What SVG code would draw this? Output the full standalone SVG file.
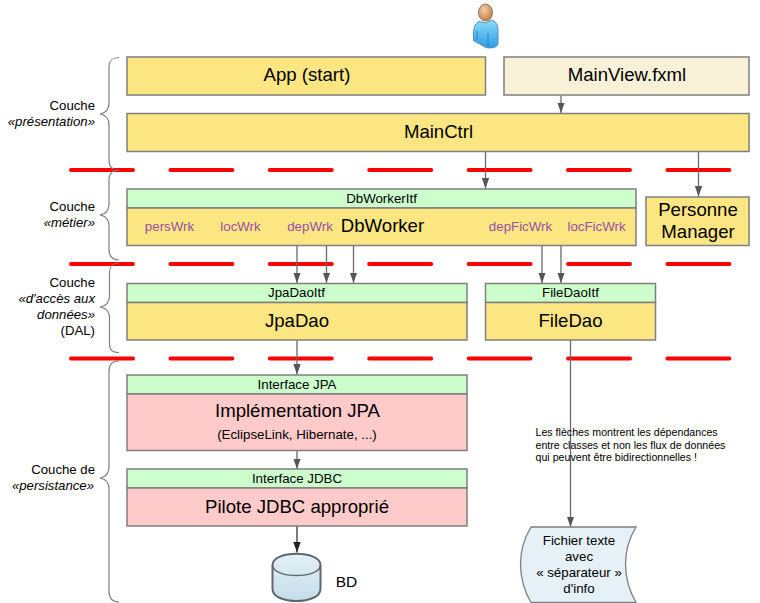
<svg xmlns="http://www.w3.org/2000/svg" width="760" height="603" viewBox="0 0 760 603">
<style>
text{font-family:"Liberation Sans",Arial,sans-serif;fill:#000;text-anchor:middle}
.b{stroke:#7f7f7f;stroke-width:1.5}
.y{fill:#fbe681}.g{fill:#ccffcc}.r{fill:#ffcaca}.c{fill:#f9f1d7}
.t16{font-size:18.600px}.t12{font-size:13.300px}.t11{font-size:13.300px;fill:#9a4fa8}
.l{font-size:13.200px;text-anchor:end}.i{font-style:italic}
.n{font-size:10.650px;text-anchor:start}
.dash{stroke:#ff0000;stroke-width:4;stroke-linecap:round;stroke-dasharray:62 37.400;fill:none}
.brace{fill:none;stroke:#7f7f7f;stroke-width:1.200}
.arrow{fill:none;stroke:#6a6a70;stroke-width:1.300;marker-end:url(#ah)}
</style>
<defs>
<marker id="ah" markerUnits="userSpaceOnUse" markerWidth="11" markerHeight="8" refX="10.500" refY="4" viewBox="0 0 11 8" orient="auto"><path d="M0 0.300L10.500 4L0 7.700z" fill="#55555c"/></marker>
<marker id="ahk" markerUnits="userSpaceOnUse" markerWidth="11" markerHeight="8" refX="10.500" refY="4" viewBox="0 0 11 8" orient="auto"><path d="M0 0.300L10.500 4L0 7.700z" fill="#222"/></marker>
<linearGradient id="cyl" x1="0" y1="0" x2="0" y2="1"><stop offset="0" stop-color="#e4f0f5"/><stop offset="1" stop-color="#c4dde9"/></linearGradient>
<linearGradient id="body" x1="0" y1="0" x2="0" y2="1"><stop offset="0" stop-color="#8fdcf8"/><stop offset="1" stop-color="#2a9be6"/></linearGradient>
<radialGradient id="head" cx="0.4" cy="0.35" r="0.7"><stop offset="0" stop-color="#f6cfa8"/><stop offset="1" stop-color="#b97a45"/></radialGradient>
</defs>

<g id="separators">
<line class="dash" x1="71" y1="170" x2="732" y2="170"/>
<line class="dash" x1="71" y1="264" x2="732" y2="264"/>
<line class="dash" x1="71" y1="358.500" x2="732" y2="358.500"/>
</g>

<g id="braces">
<path class="brace" d="M119 57.500C112 57.500 109 60 109 67V103C109 110 106 113 100 114C106 115 109 118 109 125V158C109 165 110 168 114 169"/>
<path class="brace" d="M119 170C112 170 109 173 109 180V204C109 211 106 214 100 215C106 216 109 219 109 226V249C109 256 112 260 119 260"/>
<path class="brace" d="M119 263C112 263 109.500 266 109.500 273V296C109.500 303 106 306 100 307C106 308 109.500 311 109.500 318V343C109.500 350 112 352.500 119 352.500"/>
<path class="brace" d="M119 361C112 361 109 364 109 371V467C109 474 106 477 100 478C106 479 109 482 109 489V591C109 598 112 602 119 602"/>
</g>

<g id="layer-labels">
<text class="l" x="95" y="110">Couche</text>
<text class="l i" x="95" y="126">«présentation»</text>
<text class="l" x="95" y="211">Couche</text>
<text class="l i" x="95" y="227">«métier»</text>
<text class="l" x="95" y="287">Couche</text>
<text class="l i" x="95" y="303">«d'accès aux</text>
<text class="l i" x="95" y="319">données»</text>
<text class="l" x="95" y="335">(DAL)</text>
<text class="l" x="95" y="474">Couche de</text>
<text class="l i" x="94" y="490">«persistance»</text>
</g>

<g id="connectors">
<path class="arrow" d="M561 95.500V113"/>
<path class="arrow" d="M485.500 151.500V188.500"/>
<path class="arrow" d="M698.500 151.500V196.500"/>
<path class="arrow" d="M297 245.500V283"/>
<path class="arrow" d="M326.500 245.500V283"/>
<path class="arrow" d="M353.500 245.500V283"/>
<path class="arrow" d="M542 245.500V283"/>
<path class="arrow" d="M561 245.500V283"/>
<path class="arrow" d="M297 340V374.500"/>
<path class="arrow" d="M297 450.500V469"/>
<path d="M297 526V552.500" fill="none" stroke="#333" stroke-width="1.300" marker-end="url(#ahk)"/>
<path class="arrow" d="M570.500 340V527"/>
</g>

<g id="user">
<path d="M479 21.500C474.500 24 473.500 28 473.500 36L473.500 40.500L486 47.500C490 48.500 497 48 498 44V30C498 24 495 21 491.500 20L485.500 23Z" fill="url(#body)" stroke="#4d8fb5" stroke-width="1"/>
<path d="M488 33V47M477 31V40" stroke="#1f78b8" stroke-width="0.800" fill="none"/>
<ellipse cx="485.500" cy="12.500" rx="7" ry="8.500" fill="url(#head)" stroke="#8a7a6a" stroke-width="1"/>
</g>

<g id="app"><rect class="b y" x="127" y="57" width="358.500" height="38"/><text class="t16" x="307" y="81">App (start)</text></g>
<g id="mainview"><rect class="b c" x="504" y="57" width="245" height="38"/><text class="t16" x="627" y="81">MainView.fxml</text></g>
<g id="mainctrl"><rect class="b y" x="127" y="113.500" width="622" height="38"/><text class="t16" x="438.500" y="138">MainCtrl</text></g>

<g id="dbworker">
<rect class="b g" x="127" y="189" width="509" height="19"/><text class="t12" x="381.500" y="203">DbWorkerItf</text>
<rect class="b y" x="127" y="208" width="509" height="37.500"/>
<text class="t16" x="382.500" y="232">DbWorker</text>
<text class="t11" x="169.500" y="231">persWrk</text>
<text class="t11" x="240.500" y="231">locWrk</text>
<text class="t11" x="310" y="231">depWrk</text>
<text class="t11" x="520.500" y="231">depFicWrk</text>
<text class="t11" x="596.500" y="231">locFicWrk</text>
</g>
<g id="personne"><rect class="b y" x="646" y="197" width="103" height="48.500"/><text class="t16" x="698" y="216">Personne</text><text class="t16" x="698" y="238">Manager</text></g>

<g id="jpadao">
<rect class="b g" x="127" y="283.500" width="340" height="19"/><text class="t12" x="296.500" y="297">JpaDaoItf</text>
<rect class="b y" x="127" y="302.500" width="340" height="37.500"/><text class="t16" x="297" y="327">JpaDao</text>
</g>
<g id="filedao">
<rect class="b g" x="485.500" y="283.500" width="170" height="19"/><text class="t12" x="570.500" y="297">FileDaoItf</text>
<rect class="b y" x="485.500" y="302.500" width="170" height="37.500"/><text class="t16" x="570.500" y="327">FileDao</text>
</g>
<g id="jpa">
<rect class="b g" x="127" y="375" width="340" height="19"/><text class="t12" x="297" y="389">Interface JPA</text>
<rect class="b r" x="127" y="394" width="340" height="56.500"/><text class="t16" x="297.500" y="417">Implémentation JPA</text><text class="t12" x="297" y="439">(EclipseLink, Hibernate, ...)</text>
</g>
<g id="jdbc">
<rect class="b g" x="127" y="469" width="340" height="19"/><text class="t12" x="297" y="483">Interface JDBC</text>
<rect class="b r" x="127" y="488" width="340" height="38"/><text class="t16" x="297" y="513">Pilote JDBC approprié</text>
</g>

<g id="bd">
<path d="M272.500 565C272.500 550 320.500 550 320.500 565V589C320.500 605 272.500 605 272.500 589Z" fill="url(#cyl)" stroke="#5f6870" stroke-width="2"/>
<path d="M272.500 565C272.500 579 320.500 579 320.500 565" fill="none" stroke="#5f6870" stroke-width="1.500"/>
<text x="346.500" y="587" style="font-size:15.500px">BD</text>
</g>

<g id="note">
<text class="n" x="535.500" y="436">Les flèches montrent les dépendances</text>
<text class="n" x="535.500" y="449">entre classes et non les flux de données</text>
<text class="n" x="535.500" y="461">qui peuvent être bidirectionnelles !</text>
</g>

<g id="fichier">
<path d="M531 527H636C622 550 622 578 636 602.500H531C517 578 517 550 531 527Z" fill="#e6f1f7" stroke="#7f7f7f" stroke-width="1.300"/>
<text class="t12" x="579" y="545">Fichier texte</text>
<text class="t12" x="579" y="561">avec</text>
<text class="t12" x="579" y="577">« séparateur »</text>
<text class="t12" x="579" y="593">d'info</text>
</g>
</svg>
